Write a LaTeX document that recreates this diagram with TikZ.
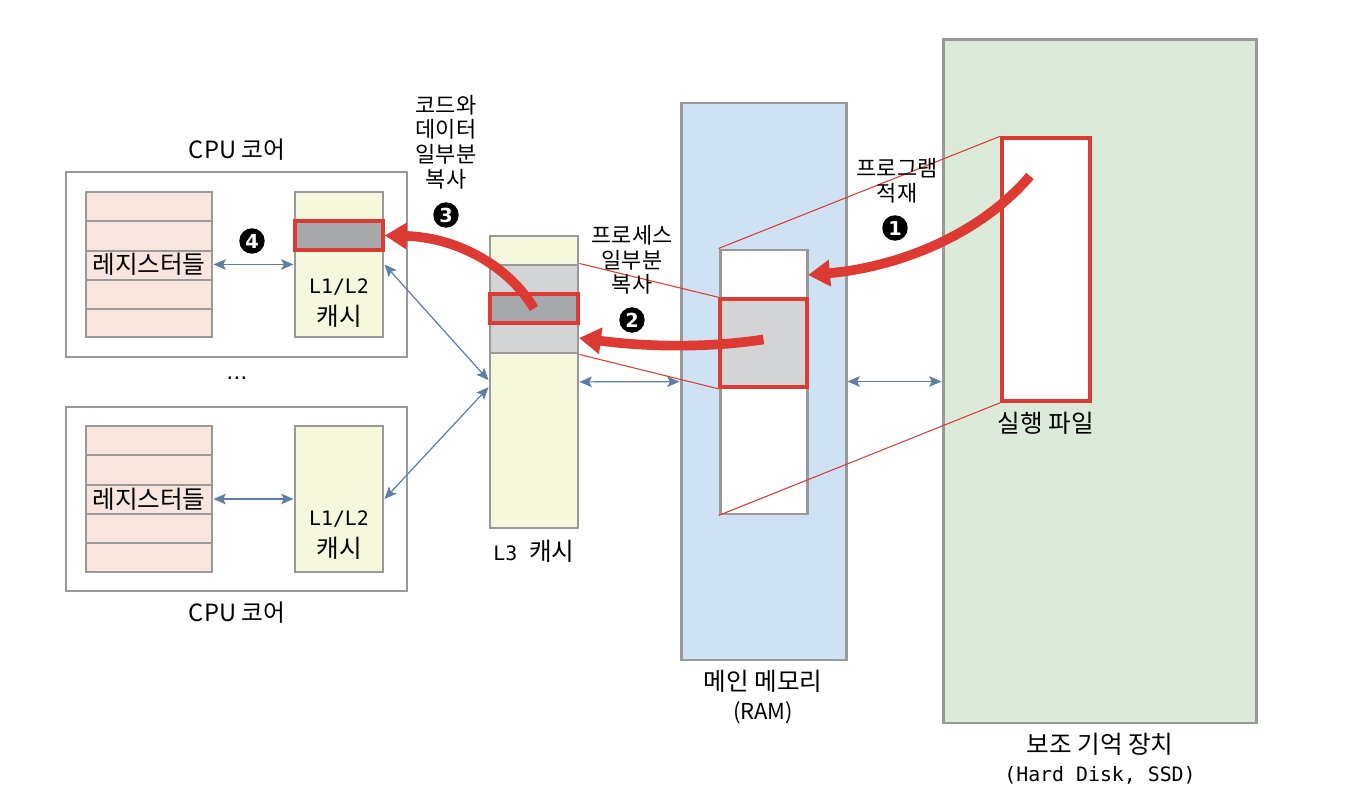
\documentclass[tikz,border=0pt]{standalone}
\usepackage{fontspec}
\setmainfont{Noto Sans CJK KR}
\newfontfamily\monofont{DejaVu Sans Mono}
\newfontfamily\digitfont{DejaVu Sans}
\usepackage{tikz}
\usetikzlibrary{arrows.meta}
\usetikzlibrary{positioning}
\usetikzlibrary{fit}
\definecolor{regfill}{HTML}{F8E5DD}
\definecolor{cachefill}{HTML}{F5F8DC}
\definecolor{ramfill}{HTML}{CFE2F3}
\definecolor{ssdfill}{HTML}{DCEBD9}
\definecolor{boxgray}{HTML}{999999}
\definecolor{hotred}{HTML}{DC3A33}
\definecolor{blockdark}{HTML}{A7A8AB}
\definecolor{blocklight}{HTML}{D3D4D6}
\definecolor{linkblue}{HTML}{5E7EA8}
\newcommand\codetext[1]{{\monofont\fontsize{11.3}{16}\selectfont #1}}

\begin{document}
\begin{tikzpicture}[x=0.02cm, y=-0.02cm,
    box/.style={draw=boxgray, line width=1.7pt, inner sep=0pt},
    regbox/.style={box, fill=regfill},
    cachebox/.style={box, fill=cachefill},
    hotblock/.style={draw=hotred, line width=2pt, inner sep=0pt},
    rowline/.style={boxgray, line width=1.7pt},
    link/.style={linkblue, line width=0.7pt,
      {Stealth[length=7pt,width=6pt,inset=1.5pt]}-{Stealth[length=7pt,width=6pt,inset=1.5pt]}},
    zoomline/.style={hotred, line width=0.6pt},
    copyarrow/.style={hotred, line width=5.5pt, -{Triangle[length=12.5pt,width=14.5pt]}},
    stepmark/.style={circle, fill=black, text=white, inner sep=0pt, minimum size=14.5pt,
      font=\digitfont\bfseries\fontsize{11}{11}\selectfont},
    caption/.style={font=\fontsize{14}{16}\selectfont, align=center},
    cachetext/.style={font=\fontsize{14}{18.5}\selectfont, align=center},
    note/.style={font=\fontsize{12.5}{14}\selectfont, align=center},
  ]
  \useasboundingbox (0,0) rectangle (1346,810);

  % storage and main memory
  \node[box, fill=ssdfill, fit={(943,40) (1256,723)}] (ssd) {};
  \node[box, fill=ramfill, fit={(681,103) (846,660)}] (ram) {};
  \node[box, fill=white, fit={(720,250) (807,514)}] (ramcol) {};
  \node[hotblock, fill=blocklight, fit={(720,299) (807,387)}] (ramblk) {};
  \node[hotblock, fill=white, fit={(1002,138) (1090,401)}] (exe) {};

  % L3 cache
  \node[cachebox, fit={(490,236) (578,528)}] (l3) {};
  \node[box, fill=blocklight, fit={(490,265) (578,353)}] (l3blk) {};
  \node[hotblock, fill=blockdark, fit={(490,294) (578,323)}] (l3hot) {};

  % CPU cores
  \node[box, fill=white, fit={(66,172) (407,357)}] (core1) {};
  \node[regbox, fit={(86,192) (212,337)}] (regs1) {};
  \node[cachebox, fit={(295,192) (383,337)}] (l1a) {};
  \node[hotblock, fill=blockdark, fit={(295,221) (383,250)}] (l1hot) {};
  \node[box, fill=white, fit={(66,407) (407,591)}] (core2) {};
  \node[regbox, fit={(86,426) (212,572)}] (regs2) {};
  \node[cachebox, fit={(295,426) (383,572)}] (l1b) {};
  \foreach \y in {29,59,88,117} {
    \draw[rowline] (86,192+\y) -- (212,192+\y);
    \draw[rowline] (86,426+\y) -- (212,426+\y);
  }

  \node[caption] (regtext1) at (regs1) {레지스터들};
  \node[caption] (regtext2) at (regs2) {레지스터들};
  \node[cachetext] (l1text1) at (339,303) {\codetext{L1/L2}\\캐시};
  \node[cachetext] (l1text2) at (339,535) {\codetext{L1/L2}\\캐시};

  % labels
  \node[caption, font=\fontsize{13.5}{16}\selectfont] (core1name) at (237,150) {CPU 코어};
  \node[caption, font=\fontsize{13.5}{16}\selectfont] (core2name) at (237,613) {CPU 코어};
  \node[caption, font=\digitfont\fontsize{12}{14}\selectfont] (between) at (237,378) {…};
  \node[caption] (l3name) at (534,551) {\codetext{L3 }캐시};
  \node[caption] (ramname) at (763,697) {메인 메모리\\{\fontsize{12.5}{16}\selectfont (RAM)}};
  \node[caption] (ssdname) at (1100,759) {보조 기억 장치\\\codetext{(Hard Disk, SSD)}};
  \node[caption] (exename) at (1046,423) {실행 파일};

  % data paths
  \draw[link] (regs1) -- (l1a);
  \draw[link] (regs2) -- (l1b);
  \draw[link] (l1a.east) -- ([yshift=1pt]l3.west);
  \draw[link] (l1b.east) -- ([yshift=-3pt]l3.west);
  \draw[link] (l3) -- (ram);
  \draw[link] (ram) -- (ssd);

  % copied regions
  \draw[zoomline] (exe.north west) -- (ramcol.north west);
  \draw[zoomline] (exe.south west) -- (ramcol.south west);
  \draw[zoomline] (l3blk.north east) -- (ramblk.north west);
  \draw[zoomline] (l3blk.south east) -- (ramblk.south west);

  \coordinate (loadtail) at (1030,176);
  \coordinate (loadtip) at (808,275);
  \coordinate (copytip) at (579,338);
  \draw[copyarrow] (loadtail) .. controls (975,240) and (890,268) .. (loadtip);
  \draw[copyarrow] ([yshift=2pt]ramblk.center) .. controls (700,349) and (640,346) .. (copytip);
  \draw[copyarrow] (l3hot.center) .. controls (506,262) and (452,237) .. (l1hot.east);

  \node[note] (note1) at (897,181) {프로그램\\적재};
  \node[note] (note2) at (632,260) {프로세스\\일부분\\복사};
  \node[note] (note3) at (446,142) {코드와\\데이터\\일부분\\복사};
  \node[stepmark] (mark1) at (895,228) {1};
  \node[stepmark] (mark2) at (632,320) {2};
  \node[stepmark] (mark3) at (446,215) {3};
  \node[stepmark] (mark4) at (252,241) {4};
\end{tikzpicture}
\end{document}
